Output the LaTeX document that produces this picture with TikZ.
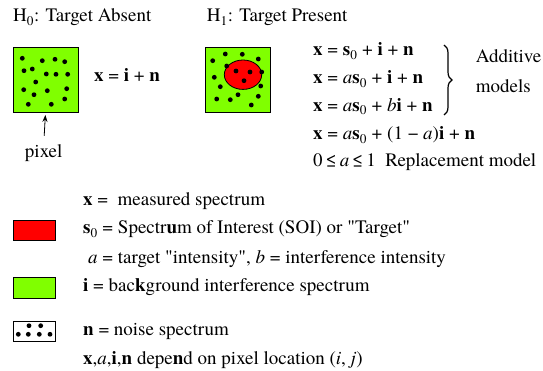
\documentclass[tikz,border=0pt]{standalone}
\usepackage{fontspec}
\setmainfont{TeX Gyre Termes}
\usetikzlibrary{arrows.meta,decorations.pathreplacing,shapes.geometric}
\definecolor{tgtred}{RGB}{255,0,0}
\definecolor{bggreen}{RGB}{128,255,0}
\newcommand{\zs}[1]{\textsubscript{#1}}
\newcommand{\vb}[1]{\textbf{#1}}
\newcommand{\qd}{\textquotedbl}
\begin{document}
\begin{tikzpicture}[x=1pt,y=-1pt,
  every node/.style={inner sep=0pt, font=\rmfamily\fontsize{19}{22}\selectfont},
  txt/.style={anchor=base west},
  pixbox/.style={draw=black, line width=0.8pt, fill=bggreen, minimum size=65pt},
  legbox/.style={draw=black, line width=0.8pt, minimum width=41.7pt, minimum height=20.5pt},
  dotc/.style={fill=black},
  tgt/.style={ellipse, draw=black, line width=0.8pt, fill=tgtred, minimum width=37.4pt, minimum height=29.4pt}]
\useasboundingbox (0,0) rectangle (543,371);

% titles
\node[txt] (h0) at (13,22) {H\zs{0}: Target Absent};
\node[txt] (h1) at (206.7,22) {H\zs{1}: Target Present};

% pixel boxes
\node[pixbox] (box0) at (45.5,79.5) {};
\node[pixbox] (box1) at (237.5,80) {};
\node[tgt] (target) at (243,74.7) {};

\foreach \p in {(22.3,58.3),(42.3,60.7),(55,59.3),(64.7,61.7),(24,70.7),(32.3,69),(46.3,74),(56,74.3),(67.7,74.3),(35.7,82),(23.7,89.7),(34,94.7),(47.3,90.7),(66.7,88.7),(28.3,104.3),(51.3,104.3),(64.7,99)}
  \fill[dotc] \p circle (2.4);
\foreach \p in {(212.7,60.7),(225.3,54),(242.3,54.3),(258.3,59),(226.7,66),(236,71),(250,72),(261.7,72),(244,80.7),(214.3,77.3),(220.3,86.7),(260.7,86),(216.7,99),(230.3,99.7),(238,94.7),(258.3,96.3),(251.3,105)}
  \fill[dotc] \p circle (2.4);

\node[txt] (eq0) at (94,81.7) {\vb{x} = \vb{i} + \vb{n}};

% pixel label
\node[anchor=base] (pixel) at (43.7,158) {pixel};
\draw[-{Stealth[length=7pt,width=5pt]}, line width=0.8pt, shorten <=9pt, shorten >=2.5pt] (pixel.north) -- (box0.south);

% model equations
\node[txt] (m1) at (313,56) {\vb{x} = \vb{s}\zs{0} + \vb{i} + \vb{n}};
\node[txt] (m2) at (313,84) {\vb{x} = \textit{a}\vb{s}\zs{0} + \vb{i} + \vb{n}};
\node[txt] (m3) at (313,111.5) {\vb{x} = \textit{a}\vb{s}\zs{0} + \textit{b}\vb{i} + \vb{n}};
\node[txt] (m4) at (313,140) {\vb{x} = \textit{a}\vb{s}\zs{0} + (1 − \textit{a})\vb{i} + \vb{n}};
\node[txt] (m5) at (313,167) {0\,≤\,\textit{a}\,≤\,1\ \ Replacement model};

\coordinate (bt) at (444,45);
\coordinate (bb) at (444,115);
\draw[decorate, decoration={brace, amplitude=8pt}, line width=1.2pt] (bt) -- (bb);
\node[txt] (add1) at (475.7,63) {Additive};
\node[txt] (add2) at (475.7,93) {models};

% legend
\node[txt] (lx) at (83,206) {\vb{x} =\ \ measured spectrum};
\node[legbox, fill=tgtred] (lred) at (34.2,230.5) {};
\node[txt] (ls) at (83,234) {\vb{s}\zs{0} = Spectr\vb{u}m of Interest (SOI) or \qd Target\qd};
\node[txt] (la) at (88,263.3) {\textit{a} = target \qd intensity\qd, \textit{b} = interference intensity};
\node[legbox, fill=bggreen] (lgreen) at (34.2,287.8) {};
\node[txt] (li) at (83,291.7) {\vb{i} = bac\vb{k}ground interference spectrum};
\node[legbox, fill=white] (lnoise) at (34.2,331.2) {};
\foreach \p in {(29,325.7),(40.7,325.7),(18.3,334.3),(28.3,334.3),(39.3,334.3),(50,334.3)}
  \fill[dotc] \p circle (2.4);
\node[txt] (ln) at (83,335.7) {\vb{n} = noise spectrum};
\node[txt] (ldep) at (83,364) {\vb{x},\textit{a},\vb{i},\vb{n} depe\vb{n}d on pixel location (\textit{i}, \textit{j})};
\end{tikzpicture}
\end{document}
